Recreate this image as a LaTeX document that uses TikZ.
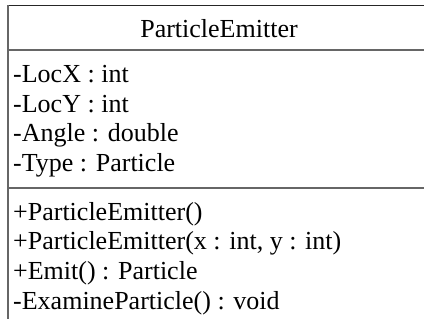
\documentclass[tikz,border=0pt]{standalone}
\usepackage{fontspec}
\setmainfont{Liberation Serif}
\usetikzlibrary{positioning}

\begin{document}
\begin{tikzpicture}[x=1pt, y=-1pt,
  frame/.style={line width=1.5pt, black!60},
  classname/.style={anchor=base, inner sep=0pt, font=\fontsize{26}{30}\selectfont},
  member/.style={anchor=base west, inner sep=0pt, font=\fontsize{26}{30}\selectfont}]
  \useasboundingbox (0,0) rectangle (424,322);

  % Class box (cut off on the right and at the bottom)
  \draw[line width=1pt, black!85] (8,5) -- (424,5);
  \draw[frame] (8,5) -- (8,319);
  \draw[frame] (8,50) -- (424,50);
  \draw[frame] (8,188) -- (424,188);

  % Name
  \node[classname] (name) at (219,37) {ParticleEmitter};

  % Attributes
  \foreach \txt [count=\i] in {-LocX : int, -LocY : int, -Angle : double, -Type : Particle}
    \node[member] (attr\i) at (13,{82.5+29.7*(\i-1)}) {\txt};

  % Operations
  \foreach \txt [count=\i] in {+ParticleEmitter(), {+ParticleEmitter(x : int, y : int)}, +Emit() : Particle, -ExamineParticle() : void}
    \node[member] (op\i) at (13,{220+29.7*(\i-1)}) {\txt};

\end{tikzpicture}
\end{document}
